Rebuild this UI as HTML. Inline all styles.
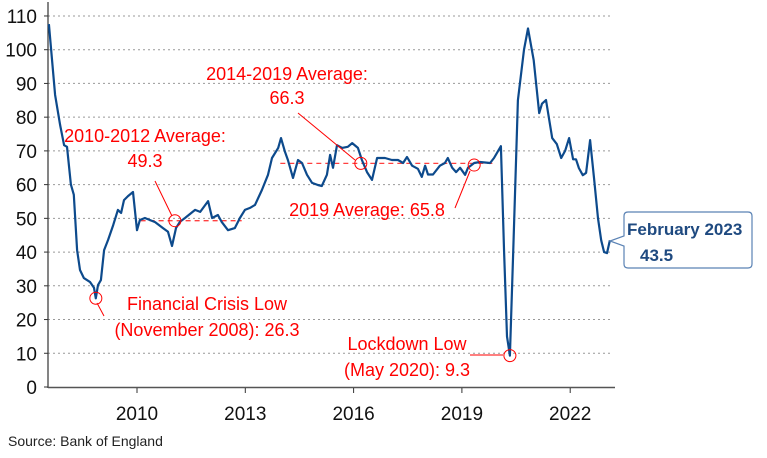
<!DOCTYPE html>
<html><head><meta charset="utf-8"><style>
html,body{margin:0;padding:0;background:#fff;}
svg{display:block;font-family:"Liberation Sans",sans-serif;}
</style></head><body>
<svg id="chart" width="767" height="458" viewBox="0 0 767 458" xmlns="http://www.w3.org/2000/svg">
<g id="grid"></g>
<g id="yticks"></g>
<g id="xticks"></g>
<g id="avgs"></g>
<path id="line" fill="none" stroke="#0d4a8c" stroke-width="2.2" stroke-linejoin="round"/>
<g id="ann" fill="#ff0000" font-size="18" text-anchor="middle">
<text x="287" y="80">2014-2019 Average:</text>
<text x="287" y="104">66.3</text>
<text x="145" y="142">2010-2012 Average:</text>
<text x="145" y="167">49.3</text>
<text x="367" y="216">2019 Average: 65.8</text>
<text x="207" y="310">Financial Crisis Low</text>
<text x="207" y="336">(November 2008): 26.3</text>
<text x="407" y="350">Lockdown Low</text>
<text x="407" y="376">(May 2020): 9.3</text>
</g>
<g id="marks" stroke="#ff0000" fill="none" stroke-width="1"></g>
<g>
<path d="M628 212 H748 Q752 212 752 216 V264 Q752 268 748 268 H628 Q624 268 624 264 V246 L610 241 L624 236 V216 Q624 212 628 212 Z" fill="#fff" stroke="#5a82b4" stroke-width="1.2"/>
<text x="627" y="235" font-size="17" font-weight="bold" fill="#1f4a80">February 2023</text>
<text x="640" y="261" font-size="17" font-weight="bold" fill="#1f4a80">43.5</text>
</g>
<text x="8" y="446" font-size="14" fill="#222">Source: Bank of England</text>
</svg>
<script>
const years = [2007.56,2007.73,2007.87,2007.98,2008.06,2008.17,2008.25,2008.34,2008.42,2008.53,2008.70,2008.81,2008.86,2008.92,2009.0,2009.09,2009.20,2009.34,2009.47,2009.56,2009.64,2009.75,2009.89,2010.0,2010.08,2010.22,2010.50,2010.72,2010.86,2010.97,2011.08,2011.19,2011.33,2011.61,2011.75,2011.97,2012.08,2012.24,2012.35,2012.52,2012.71,2012.85,2012.99,2013.13,2013.27,2013.46,2013.63,2013.74,2013.91,2013.99,2014.10,2014.18,2014.32,2014.46,2014.57,2014.71,2014.85,2015.01,2015.12,2015.26,2015.35,2015.43,2015.54,2015.68,2015.84,2015.96,2016.12,2016.23,2016.37,2016.51,2016.65,2016.87,2017.06,2017.23,2017.37,2017.48,2017.62,2017.78,2017.89,2017.98,2018.06,2018.20,2018.39,2018.53,2018.61,2018.73,2018.84,2018.95,2019.09,2019.17,2019.34,2019.50,2019.78,2019.89,2020.08,2020.17,2020.25,2020.33,2020.42,2020.55,2020.72,2020.83,2020.99,2021.14,2021.22,2021.33,2021.50,2021.63,2021.75,2021.86,2021.97,2022.08,2022.16,2022.24,2022.35,2022.44,2022.55,2022.66,2022.77,2022.86,2022.94,2023.02,2023.10];
const values = [107.6,86.6,77.7,71.7,71.2,60,57,40.6,34.7,32.3,31.1,29.4,26.3,30.2,31.7,40.6,43.6,48,52.5,51.6,55.4,56.6,57.8,46.5,49.5,50.1,48.9,47.1,46,41.8,47.1,49,50.1,52.5,51.9,55.1,50.1,51,48.9,46.5,47.1,50.1,52.5,53.1,54,58.4,62.9,67.9,70.9,73.8,69.7,67.3,62,67.3,66.4,62.9,60.5,59.9,59.6,62.9,68.8,65,71.7,70.9,71.2,72.3,70.9,67.3,63.7,61.4,67.9,67.9,67.3,67.3,66.4,68.2,65.6,64.7,62.3,65.6,63,63,65.6,66.4,67.9,65,63.7,65,62.9,65,66.4,66.7,66.4,67.9,71.4,40,15,9.3,40,85,100,106.3,96.9,81.2,84,85.1,73.8,72,67.9,70,73.8,67.5,67.5,64.9,62.8,63.5,73.2,62,50,43.5,40,39.7,43.5];
const yTicks = [0,10,20,30,40,50,60,70,80,90,100,110];
const xTickYears = [2010,2013,2016,2019,2022];
const averages = [[2010.1,2012.9,49.3],[2013.97,2019.95,66.3]];
const markers = [[2008.86,26.3],[2011.05,49.3],[2016.2,66.3],[2019.34,65.8],[2020.33,9.3]];

const NS="http://www.w3.org/2000/svg";
const X0=48,X1=615;
const xs=y=>137+(y-2010)*36.1;
const ys=v=>387-v*3.373;
function mk(tag,attrs,parent){const e=document.createElementNS(NS,tag);for(const k in attrs)e.setAttribute(k,attrs[k]);parent.appendChild(e);return e;}
const grid=document.getElementById('grid'),yt=document.getElementById('yticks'),xt=document.getElementById('xticks');
yTicks.forEach(t=>{
  if(t>0){const g=mk('line',{x1:X0,x2:610,y1:ys(t),y2:ys(t),stroke:'#999','stroke-width':1,'stroke-dasharray':'2,3'},grid);
  
  }
  const tx=mk('text',{x:37,y:ys(t)+7,'font-size':19,'text-anchor':'end',fill:'#111'},yt);
  
  
  tx.textContent=t;
  mk('line',{x1:X0-4,x2:X0,y1:ys(t),y2:ys(t),stroke:'#333'},yt);
});
mk('line',{x1:X0,x2:X0,y1:2,y2:388,stroke:'#333','stroke-width':1.2},yt);
mk('line',{x1:X0,x2:X1,y1:387.5,y2:387.5,stroke:'#555','stroke-width':1.5},xt);
xTickYears.forEach(y=>{
  mk('line',{x1:xs(y),x2:xs(y),y1:388,y2:393,stroke:'#333'},xt);
  const tx=mk('text',{x:xs(y),y:420,'font-size':19,'text-anchor':'middle',fill:'#111'},xt);
  
  
  tx.textContent=y;
});
const av=document.getElementById('avgs');
averages.forEach(a=>{
  const l=mk('line',{x1:xs(a[0]),x2:xs(a[1]),y1:ys(a[2]),y2:ys(a[2]),stroke:'#ff4040','stroke-width':1.3,'stroke-dasharray':'5,4'},av);
  
  
});
let d='';
years.forEach((y,i)=>{d+=(i?'L':'M')+xs(y).toFixed(1)+' '+ys(values[i]).toFixed(1);});
document.getElementById('line').setAttribute('d',d);
const mg=document.getElementById('marks');
markers.forEach(m=>{
  const c=mk('circle',{cx:xs(m[0]),cy:ys(m[1]),r:6},mg);
  
  
});
[[155,181,172,216],[298,113,355,160],[455,208,470,171],[97,303,104,316],[470,355,503,355]].forEach(p=>{
  const l=mk('line',{x1:p[0],y1:p[1],x2:p[2],y2:p[3]},mg);
  
  
});
</script>
</body></html>
